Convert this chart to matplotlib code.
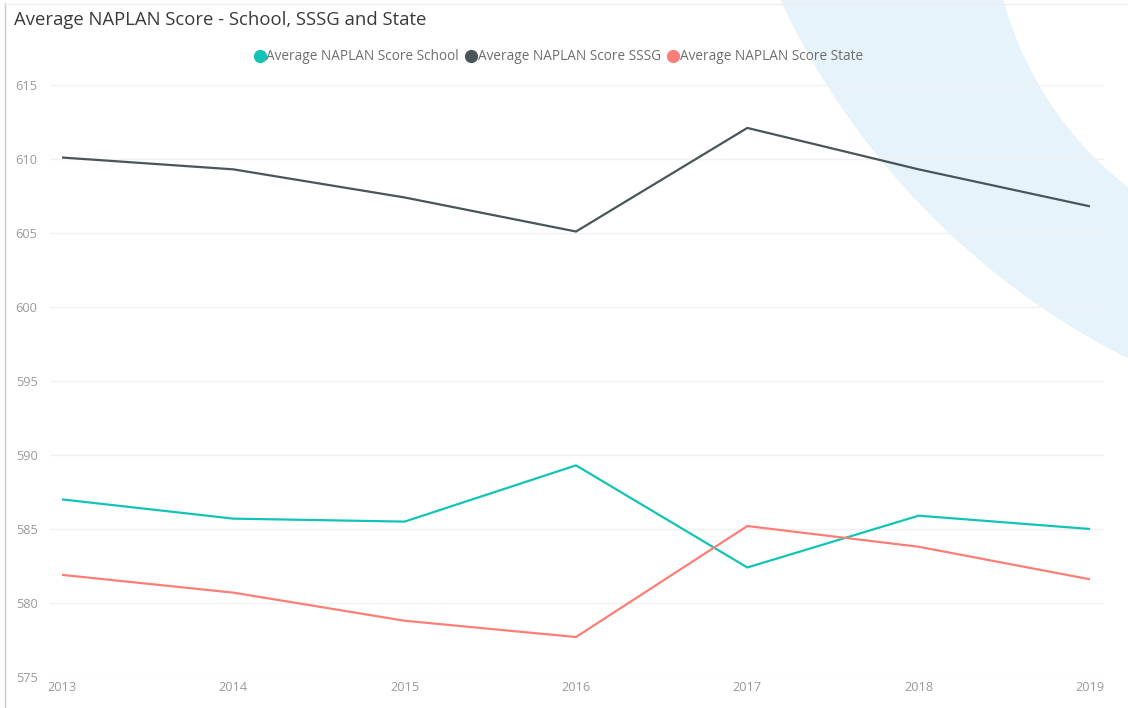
import matplotlib.pyplot as plt
from matplotlib.patches import Ellipse
from matplotlib.lines import Line2D

years = [2013, 2014, 2015, 2016, 2017, 2018, 2019]
school = [587.0, 585.7, 585.5, 589.3, 582.4, 585.9, 585.0]
sssg = [610.1, 609.3, 607.4, 605.1, 612.1, 609.3, 606.8]
state = [581.9, 580.7, 578.8, 577.7, 585.2, 583.8, 581.6]

series = [
    ("Average NAPLAN Score School", school, "#13C4B6"),
    ("Average NAPLAN Score SSSG", sssg, "#48565A"),
    ("Average NAPLAN Score State", state, "#FB7F77"),
]
y_ticks = [575, 580, 585, 590, 595, 600, 605, 610, 615]

plt.rcParams["font.family"] = ["Open Sans", "DejaVu Sans"]

W, H = 1128, 708
fig = plt.figure(figsize=(W / 100, H / 100), dpi=100)


def px(x, y):
    return x / W, 1 - y / H


# decorative background crescent (light blue band, top right)
outer = Ellipse(px(1471, -322), 2 * 762 / W, 2 * 762 / H, transform=fig.transFigure,
                facecolor="#E6F3FA", edgecolor="none", zorder=-3)
inner = Ellipse(px(1346, -93), 2 * 355 / W, 2 * 355 / H, transform=fig.transFigure,
                facecolor="white", edgecolor="none", zorder=-2)
fig.patches.extend([outer, inner])

# visual border lines
fig.add_artist(Line2D([5 / W, 5 / W], [0, 1 - 3 / H], transform=fig.transFigure,
                      color="#C8C8C8", lw=1.0, zorder=5))
fig.add_artist(Line2D([5 / W, 1], [1 - 4 / H, 1 - 4 / H], transform=fig.transFigure,
                      color="#EDEDED", lw=1.0, zorder=5))

l, b = px(50, 677)
r, t = px(1104, 85)
ax = fig.add_axes([l, b, r - l, t - b])
ax.set_facecolor("none")

for name, vals, c in series:
    ax.plot(years, vals, color=c, lw=1.6, label=name, solid_capstyle="butt", zorder=3)

ax.set_xlim(2013 - 12 / 171.3, 2019 + 14 / 171.3)
ax.set_ylim(575, 615)
ax.set_yticks(y_ticks)
ax.set_xticks(years)
ax.set_xticklabels([str(y) for y in years])
ax.grid(axis="y", color="#F1F1F1", lw=1.0, zorder=0)
ax.grid(axis="x", visible=False)
for s in ax.spines.values():
    s.set_visible(False)
ax.tick_params(axis="y", length=0, pad=9, labelsize=9.2, labelcolor="#9A9A9A")
ax.tick_params(axis="x", length=0, pad=3, labelsize=9.2, labelcolor="#9A9A9A")

fig.text(14 / W, 1 - 20 / H, "Average NAPLAN Score - School, SSSG and State",
         ha="left", va="center", fontsize=13.3, color="#3A3A3A")

handles = [Line2D([], [], marker="o", ls="none", markersize=8.5, markerfacecolor=c,
                  markeredgecolor=c) for _, _, c in series]
fig.legend(handles, [n for n, _, _ in series], loc="center", ncol=3,
           bbox_to_anchor=px(558, 57), frameon=False, fontsize=9.8,
           handletextpad=0.0, columnspacing=0.4, handlelength=1.0,
           labelcolor="#6E6E6E")

fig.savefig("out.png", dpi=100)
